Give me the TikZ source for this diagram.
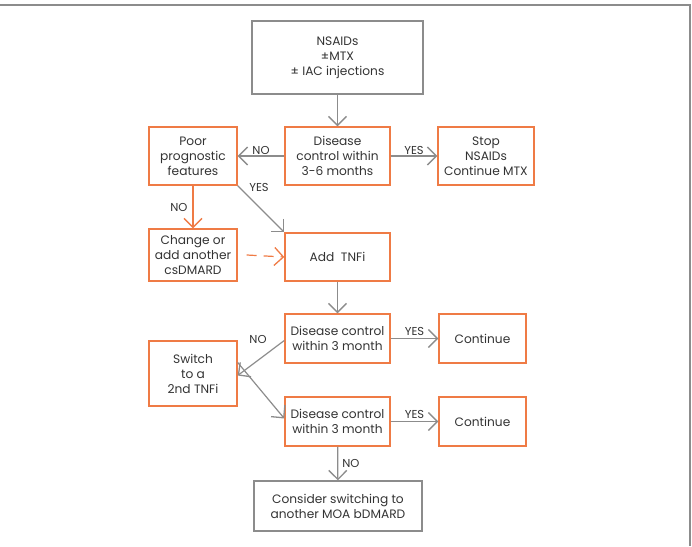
\documentclass[tikz,border=0pt]{standalone}
\usepackage{fontspec}
\setmainfont{Poppins}
\usetikzlibrary{arrows.meta}
\definecolor{og}{HTML}{EF7B45}
\definecolor{gr}{HTML}{8C8C8C}
\definecolor{tx}{HTML}{333333}
\begin{document}
\begin{tikzpicture}[x=1pt,y=-1pt,
 box/.style={draw=og, line width=1.4pt, align=center, font=\fontsize{12.2}{15}\selectfont, inner sep=0pt, text=tx},
 gbox/.style={box, draw=gr},
 arr/.style={draw=gr, line width=1.2pt, -{Straight Barb[length=9pt,width=18pt,line width=1.3pt]}},
 oarr/.style={arr, draw=og},
 lbl/.style={font=\fontsize{11.5}{13}\selectfont, text=tx, inner sep=1pt}
]
\useasboundingbox (0,0) rectangle (692,546);
\draw[gr, line width=2pt] (0,5) -- (690,5) -- (690,546);

\node[gbox, minimum width=171pt, minimum height=73pt] (start) at (337.5,57.5) {NSAIDs\\±MTX\\± IAC injections};
\node[box, minimum width=105pt, minimum height=58pt] (dc0) at (337.5,156) {Disease\\control within\\3-6 months};
\node[box, minimum width=88pt, minimum height=58pt] (poor) at (193,156) {Poor\\prognostic\\features};
\node[box, minimum width=96pt, minimum height=58pt] (stop) at (486,156) {Stop\\NSAIDs\\Continue MTX};
\node[box, minimum width=88pt, minimum height=52pt] (change) at (193,255) {Change or\\add another\\csDMARD};
\node[box, minimum width=105pt, minimum height=48pt] (tnfi) at (337.5,257) {Add\ \ TNFi};
\node[box, minimum width=105pt, minimum height=49pt] (dc1) at (337.5,338.5) {Disease control\\within 3 month};
\node[box, minimum width=87pt, minimum height=49pt] (cont1) at (482.5,338.5) {Continue};
\node[box, minimum width=88pt, minimum height=65pt] (switch) at (193,373.5) {Switch\\to a\\2nd TNFi};
\node[box, minimum width=105pt, minimum height=49pt] (dc2) at (337.5,421.5) {Disease control\\within 3 month};
\node[box, minimum width=87pt, minimum height=49pt] (cont2) at (482.5,421.5) {Continue};
\node[gbox, minimum width=168pt, minimum height=50pt] (consider) at (338,506) {Consider switching to\\another MOA bDMARD};

\draw[arr] (start) -- (dc0);
\draw[arr] (dc0) -- node[lbl, above] {NO} (poor);
\draw[arr] (dc0) -- node[lbl, above] {YES} (stop);
\draw[oarr] (poor) -- node[lbl, left, xshift=-4pt] {NO} (change);
\draw[arr] (poor.south east) -- (tnfi.north west);
\node[lbl] (yes0) at (259,187) {YES};
\draw[oarr, dashed, dash pattern=on 10pt off 7pt] ([xshift=9pt]change.east) -- (tnfi.west);
\draw[arr] (tnfi) -- (dc1);
\draw[arr] (dc1) -- node[lbl, above, yshift=1pt] {YES} (cont1);
\draw[arr] ([yshift=-2pt]dc1.west) -- ([yshift=-2pt]switch.east);
\node[lbl] (no1) at (258,339) {NO};
\draw[arr] ([yshift=11pt]switch.east) -- ([yshift=3pt]dc2.west);
\draw[arr] (dc2) -- node[lbl, above, yshift=1pt] {YES} (cont2);
\draw[arr] (dc2) -- node[lbl, right, xshift=3pt] {NO} (consider);
\end{tikzpicture}
\end{document}
